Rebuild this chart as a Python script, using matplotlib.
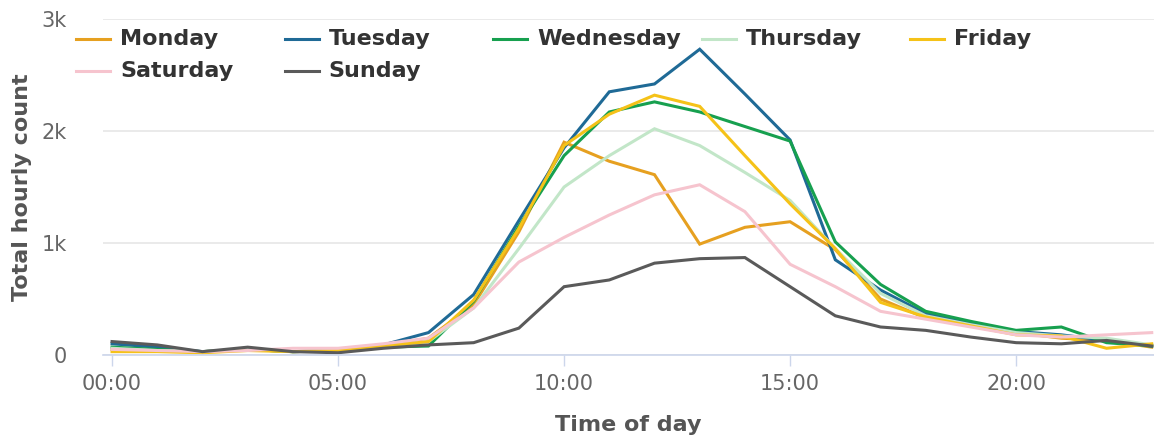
import matplotlib.pyplot as plt
from matplotlib.lines import Line2D

hours = list(range(24))
tick_hours = [0, 5, 10, 15, 20]
tick_labels = ['00:00', '05:00', '10:00', '15:00', '20:00']
y_ticks = [0, 1000, 2000, 3000]
y_labels = ['0', '1k', '2k', '3k']

days = ['Monday', 'Tuesday', 'Wednesday', 'Thursday', 'Friday', 'Saturday', 'Sunday']
monday = [50, 40, 30, 50, 30, 40, 80, 150, 450, 1100, 1900, 1730, 1610, 990, 1140, 1190, 940, 500, 330, 260, 200, 150, 130, 70]
tuesday = [100, 70, 30, 50, 30, 40, 90, 200, 540, 1200, 1850, 2350, 2420, 2730, 2330, 1920, 850, 580, 370, 280, 210, 180, 130, 80]
wednesday = [70, 50, 30, 50, 30, 40, 70, 80, 480, 1150, 1780, 2170, 2260, 2170, 2040, 1910, 1010, 630, 390, 300, 220, 250, 110, 80]
thursday = [60, 40, 30, 50, 30, 40, 70, 120, 420, 950, 1500, 1780, 2020, 1870, 1630, 1380, 950, 550, 350, 270, 200, 170, 150, 90]
friday = [30, 30, 20, 40, 30, 40, 80, 120, 490, 1130, 1870, 2150, 2320, 2220, 1780, 1350, 950, 470, 340, 260, 180, 170, 60, 100]
saturday = [50, 40, 30, 40, 60, 60, 100, 150, 420, 830, 1050, 1250, 1430, 1520, 1280, 810, 610, 390, 320, 250, 180, 160, 180, 200]
sunday = [120, 90, 30, 70, 30, 20, 60, 90, 110, 240, 610, 670, 820, 860, 870, 610, 350, 250, 220, 160, 110, 100, 130, 80]

series = [monday, tuesday, wednesday, thursday, friday, saturday, sunday]
colors = ['#E6A020', '#1F6A96', '#17A04F', '#C2E6C8', '#F5C218', '#F6C4CE', '#5A5A5A']

W, H = 1154, 445
fig = plt.figure(figsize=(W / 100, H / 100), dpi=100)
ax = fig.add_axes([103 / W, (H - 355) / H, (W - 103) / W, (355 - 19) / H])

for vals, c in zip(series, colors):
    ax.plot(hours, vals, color=c, lw=2.2, solid_joinstyle='miter')

ax.set_xlim(-0.2, 23.05)
ax.set_ylim(0, 3000)
ax.set_yticks(y_ticks, y_labels)
ax.set_xticks(tick_hours, tick_labels)
ax.yaxis.grid(True, color='#e6e6e6', lw=1.2)
ax.set_axisbelow(True)
for s in ['top', 'right', 'left']:
    ax.spines[s].set_visible(False)
ax.spines['bottom'].set_color('#ccd6eb')
ax.spines['bottom'].set_linewidth(1.2)
ax.tick_params(axis='y', length=0, pad=26, labelsize=15, labelcolor='#666666')
ax.tick_params(axis='x', length=8, width=1, color='#ccd6eb', pad=6, labelsize=15, labelcolor='#666666')

ax.set_xlabel('Time of day', fontsize=16, fontweight='bold', color='#555555')
ax.xaxis.set_label_coords(0.5, -0.18)
ax.set_ylabel('Total hourly count', fontsize=16, fontweight='bold', color='#555555')
ax.yaxis.set_label_coords(-0.068, 0.5)

# legend drawn by hand so the columns sit on an even grid
col_x0, col_step = 76, 208.5
row_y = [39, 71]
for i, (name, c) in enumerate(zip(days, colors)):
    x = col_x0 + (i % 5) * col_step
    y = row_y[i // 5]
    fig.add_artist(Line2D([x / W, (x + 34) / W], [1 - y / H, 1 - y / H], color=c, lw=2.2,
                          transform=fig.transFigure))
    fig.text((x + 44) / W, 1 - y / H, name, fontsize=16, fontweight='bold', color='#333333',
             va='center', ha='left')

fig.savefig('out.png', dpi=100)
